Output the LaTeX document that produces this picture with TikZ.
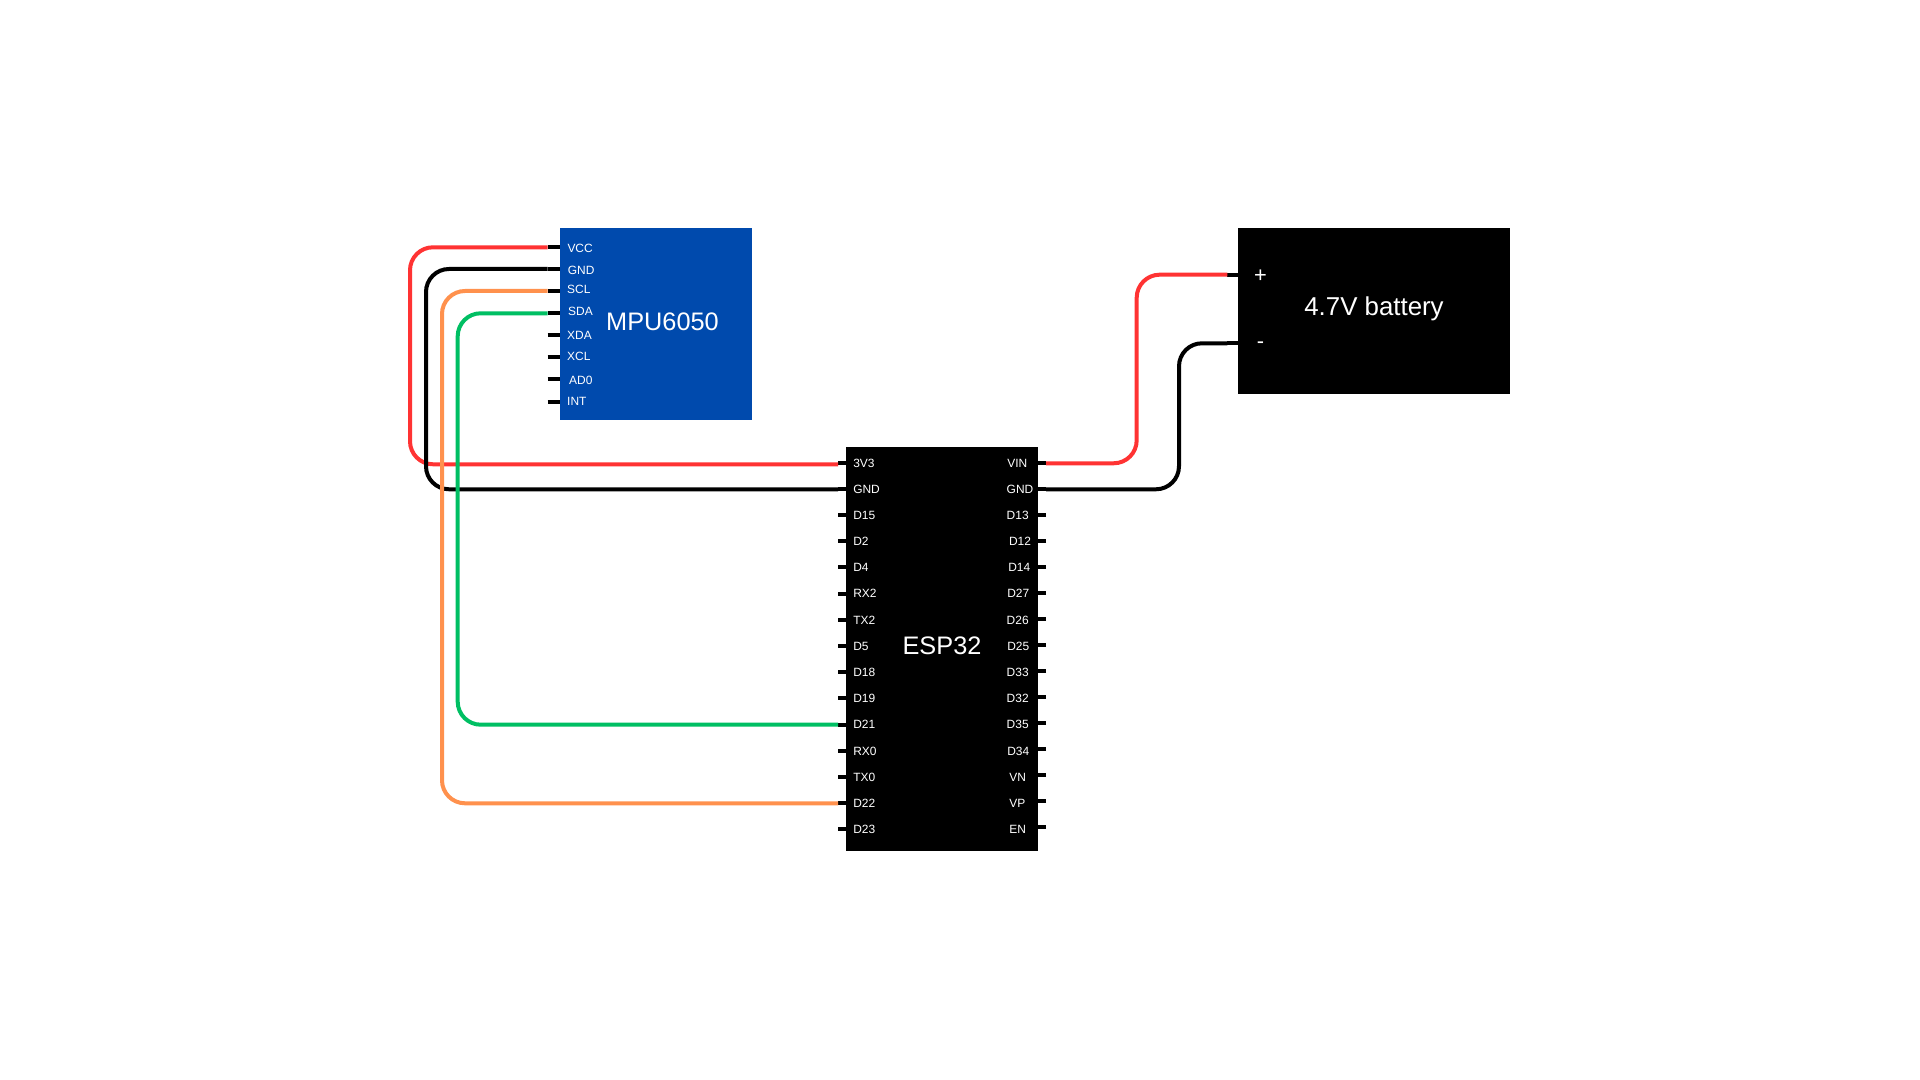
\documentclass[tikz,border=0pt]{standalone}
\usepackage{fontspec}
\setmainfont{Liberation Sans}
\definecolor{wirered}{HTML}{FF3333}
\definecolor{wireorange}{HTML}{FF914D}
\definecolor{wiregreen}{HTML}{00BF63}
\definecolor{mpublue}{HTML}{004AAD}
\tikzset{
  board/.style={inner sep=0, outer sep=0, anchor=north west, text=white},
  pin/.style={line width=0.04cm, black},
  wire/.style={line width=0.04cm, rounded corners=0.23cm},
  pinlabel/.style={inner sep=0, text=white, font=\fontsize{3.4}{4}\selectfont, text height=2.83pt, text depth=0pt},
  title/.style={inner sep=0, text=white, font=\fontsize{7.2}{8}\selectfont},
  polarity/.style={inner sep=0, text=white, font=\fontsize{6.2}{7}\selectfont}
}

\begin{document}
\begin{tikzpicture}[x=0.01cm, y=-0.01cm]

\useasboundingbox (0,0) rectangle (1920,1080);

% Boards
\node[board, fill=mpublue, minimum width=1.92cm, minimum height=1.915cm] (mpu) at (560,228) {};
\node[board, fill=black, minimum width=1.92cm, minimum height=4.03cm] (esp) at (846,447.5) {};
\node[board, fill=black, minimum width=2.72cm, minimum height=1.66cm] (bat) at (1238,228) {};

\node[title] (mputitle) at (662.5,321.5) {MPU6050};
\node[title] (esptitle) at (942,645.5) {ESP32};
\node[title, font=\fontsize{7.35}{8}\selectfont] (battitle) at (1374,309) {4.7V battery};

% Pins MPU6050
\foreach \pname/\ptxt/\py/\lx/\ly in {
  VCC/VCC/247.3/566.8/247.7, GGND/GND/269/567.2/269.7, SCL/SCL/291/566.5/289,
  SDA/SDA/313.3/567.5/310.7, XDA/XDA/335.3/566.5/335, XCL/XCL/357/566.5/356,
  ADO/AD0/379.3/568.5/379.3, INT/INT/401.7/566.5/401}
{
  \coordinate (m\pname) at (547.7,\py);
  \draw[pin] (m\pname) -- (560,\py);
  \node[pinlabel, anchor=west] (lm\pname) at (\lx,\ly) {\ptxt};
}

% Pins ESP32 links
\foreach \ptxt/\py/\ly in {
  3V3/463.3/463, GND/489.3/489, D15/515.3/515, D2/541/540.7, D4/567.3/566.7,
  RX2/593.7/592.7, TX2/620/619.7, D5/646.3/645.7, D18/672.3/671.7, D19/698.3/697.7,
  D21/724.7/723.7, RX0/750.7/750.7, TX0/777/777, D22/803.3/802.7, D23/829.3/828.7}
{
  \coordinate (l\ptxt) at (838,\py);
  \draw[pin] (l\ptxt) -- (846,\py);
  \node[pinlabel, anchor=west] (tl\ptxt) at (852.6,\ly) {\ptxt};
}

% Pins ESP32 rechts
\foreach \ptxt/\py/\lx/\ly in {
  VIN/463.3/1017.3/462.7, GND/489.3/1020/488.7, D13/515.3/1017.7/515, D12/541/1020/540.7,
  D14/567/1019.3/566.7, D27/593/1018.3/592.7, D26/619/1017.7/619.7, D25/645/1018.3/645.7,
  D33/671/1017.7/671.7, D32/697/1017.7/697.7, D35/723/1017.7/723.7, D34/749/1018.3/750.7,
  VN/775/1017.7/777, VP/801/1017.3/802.3, EN/827/1017.7/828.7}
{
  \coordinate (r\ptxt) at (1046,\py);
  \draw[pin] (r\ptxt) -- (1038,\py);
  \node[pinlabel] (tr\ptxt) at (\lx,\ly) {\ptxt};
}

% Pins Batterie
\coordinate (bplus) at (1227.3,274.7);
\coordinate (bminus) at (1227.3,343.3);
\draw[pin] (bplus) -- (1238,274.7);
\draw[pin] (bminus) -- (1238,343.3);
\node[polarity] (tplus) at (1260.5,276) {+};
\node[polarity] (tminus) at (1260.5,345.5) {-};

% Leitungen
\coordinate (wire3V3) at (838,464.3);
\coordinate (bendred) at (410,350);
\coordinate (bendblack) at (426,380);
\coordinate (bendorange) at (442,500);
\coordinate (bendgreen) at (457.7,500);
\coordinate (bendbatred) at (1136.7,370);
\coordinate (bendbatblack) at (1179,400);

\draw[wire, wirered] (mVCC) -| (bendred) |- (wire3V3);
\draw[wire, black] (mGGND) -| (bendblack) |- (lGND);
\draw[wire, wireorange] (mSCL) -| (bendorange) |- (lD22);
\draw[wire, wiregreen] (mSDA) -| (bendgreen) |- (lD21);

\draw[wire, wirered] (rVIN) -| (bendbatred) |- (bplus);
\draw[wire, black] (rGND) -| (bendbatblack) |- (bminus);

\end{tikzpicture}
\end{document}
